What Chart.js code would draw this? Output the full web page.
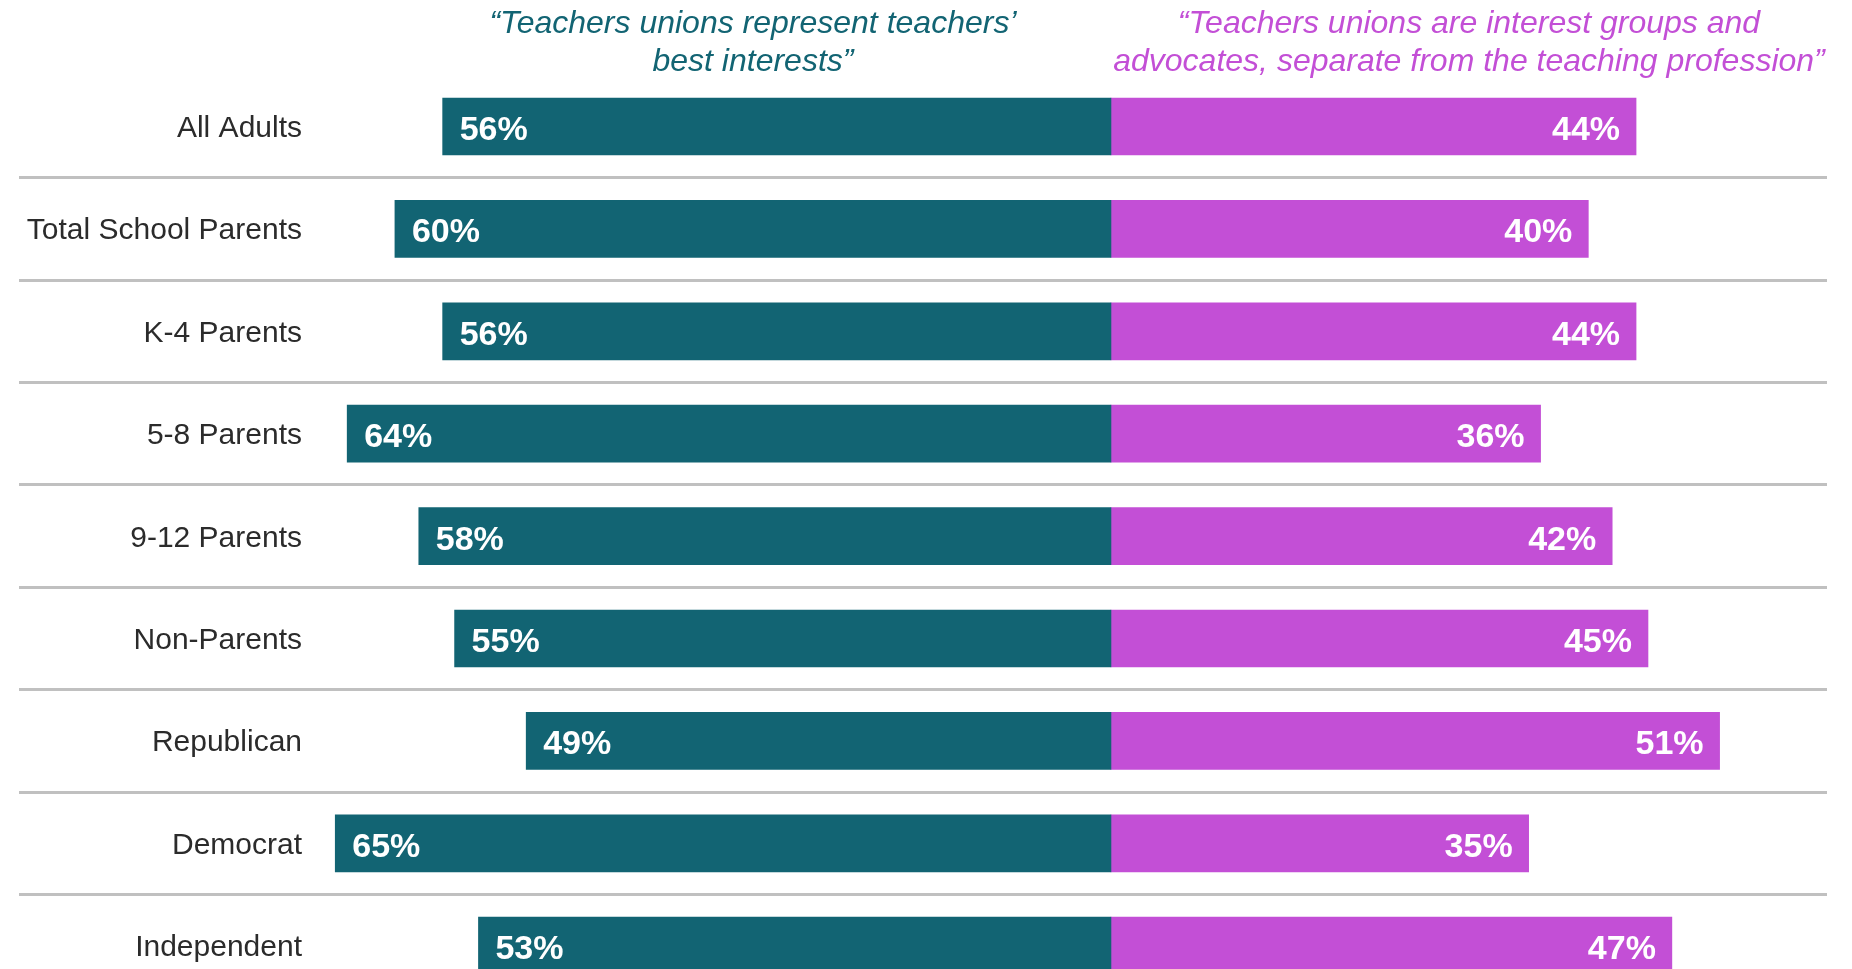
<!DOCTYPE html>
<html>
<head>
<meta charset="utf-8">
<title>Teachers unions</title>
<script src="https://cdn.jsdelivr.net/npm/chart.js@4.4.1/dist/chart.umd.min.js"></script>
<style>
  html, body { margin: 0; padding: 0; background: #ffffff; }
  canvas { display: block; }
</style>
</head>
<body>
<canvas id="chart" width="1852" height="969"></canvas>
<script>
const groups = [
  "All Adults",
  "Total School Parents",
  "K-4 Parents",
  "5-8 Parents",
  "9-12 Parents",
  "Non-Parents",
  "Republican",
  "Democrat",
  "Independent",
];
const representValues = [56, 60, 56, 64, 58, 55, 49, 65, 53];
const separateValues = [44, 40, 44, 36, 42, 45, 51, 35, 47];
const headerLeft = ["\u201cTeachers unions represent teachers\u2019", "best interests\u201d"];
const headerRight = [
  "\u201cTeachers unions are interest groups and",
  "advocates, separate from the teaching profession\u201d",
];

const TEAL = "#126473";
const MAGENTA = "#c34fd6";
const FONT = '"Liberation Sans", Arial, sans-serif';

// group names, percentages inside the bars and the two quoted headers
const textPlugin = {
  id: "textPlugin",
  afterDatasetsDraw(chart) {
    const ctx = chart.ctx;
    const x = chart.scales.x;
    const y = chart.scales.y;
    ctx.save();

    ctx.font = "30px " + FONT;
    ctx.fillStyle = "#2b2b2b";
    ctx.textAlign = "right";
    ctx.textBaseline = "alphabetic";
    chart.data.labels.forEach((label, i) => {
      ctx.fillText(label, chart.chartArea.left + 283, y.getPixelForValue(i) + 10.5);
    });

    ctx.font = "bold 34px " + FONT;
    ctx.fillStyle = "#ffffff";
    const left = chart.getDatasetMeta(0).data;
    const right = chart.getDatasetMeta(1).data;
    left.forEach((bar, i) => {
      ctx.textAlign = "left";
      ctx.fillText(representValues[i] + "%", Math.min(bar.x, bar.base) + 17, bar.y + 13.5);
    });
    right.forEach((bar, i) => {
      ctx.textAlign = "right";
      ctx.fillText(separateValues[i] + "%", Math.max(bar.x, bar.base) - 16, bar.y + 13.5);
    });

    ctx.font = "italic 32px " + FONT;
    ctx.textAlign = "center";
    ctx.fillStyle = TEAL;
    headerLeft.forEach((line, i) => {
      ctx.fillText(line, x.getPixelForValue(-30), 33 + i * 38);
    });
    ctx.fillStyle = MAGENTA;
    headerRight.forEach((line, i) => {
      ctx.fillText(line, x.getPixelForValue(30), 33 + i * 38);
    });
    ctx.restore();
  },
};

new Chart(document.getElementById("chart").getContext("2d"), {
  type: "bar",
  data: {
    labels: groups,
    datasets: [
      {
        label: "Represent teachers' best interests",
        data: representValues.map((v) => -v),
        backgroundColor: TEAL,
        barThickness: 57,
        clip: false,
      },
      {
        label: "Separate from the teaching profession",
        data: separateValues,
        backgroundColor: MAGENTA,
        barThickness: 57,
        clip: false,
      },
    ],
  },
  options: {
    indexAxis: "y",
    responsive: false,
    animation: false,
    layout: {
      padding: { left: 19, right: 25, top: 126.5, bottom: 23.3 },
    },
    plugins: {
      legend: { display: false },
      tooltip: { enabled: false },
    },
    scales: {
      x: {
        display: false,
        stacked: true,
        min: -91.5,
        max: 60,
      },
      y: {
        stacked: true,
        offset: false,
        border: { display: false },
        grid: {
          offset: true,
          drawTicks: false,
          color: "#c0c0c0",
          lineWidth: 3,
        },
        ticks: { display: false },
      },
    },
  },
  plugins: [textPlugin],
});
</script>
</body>
</html>
